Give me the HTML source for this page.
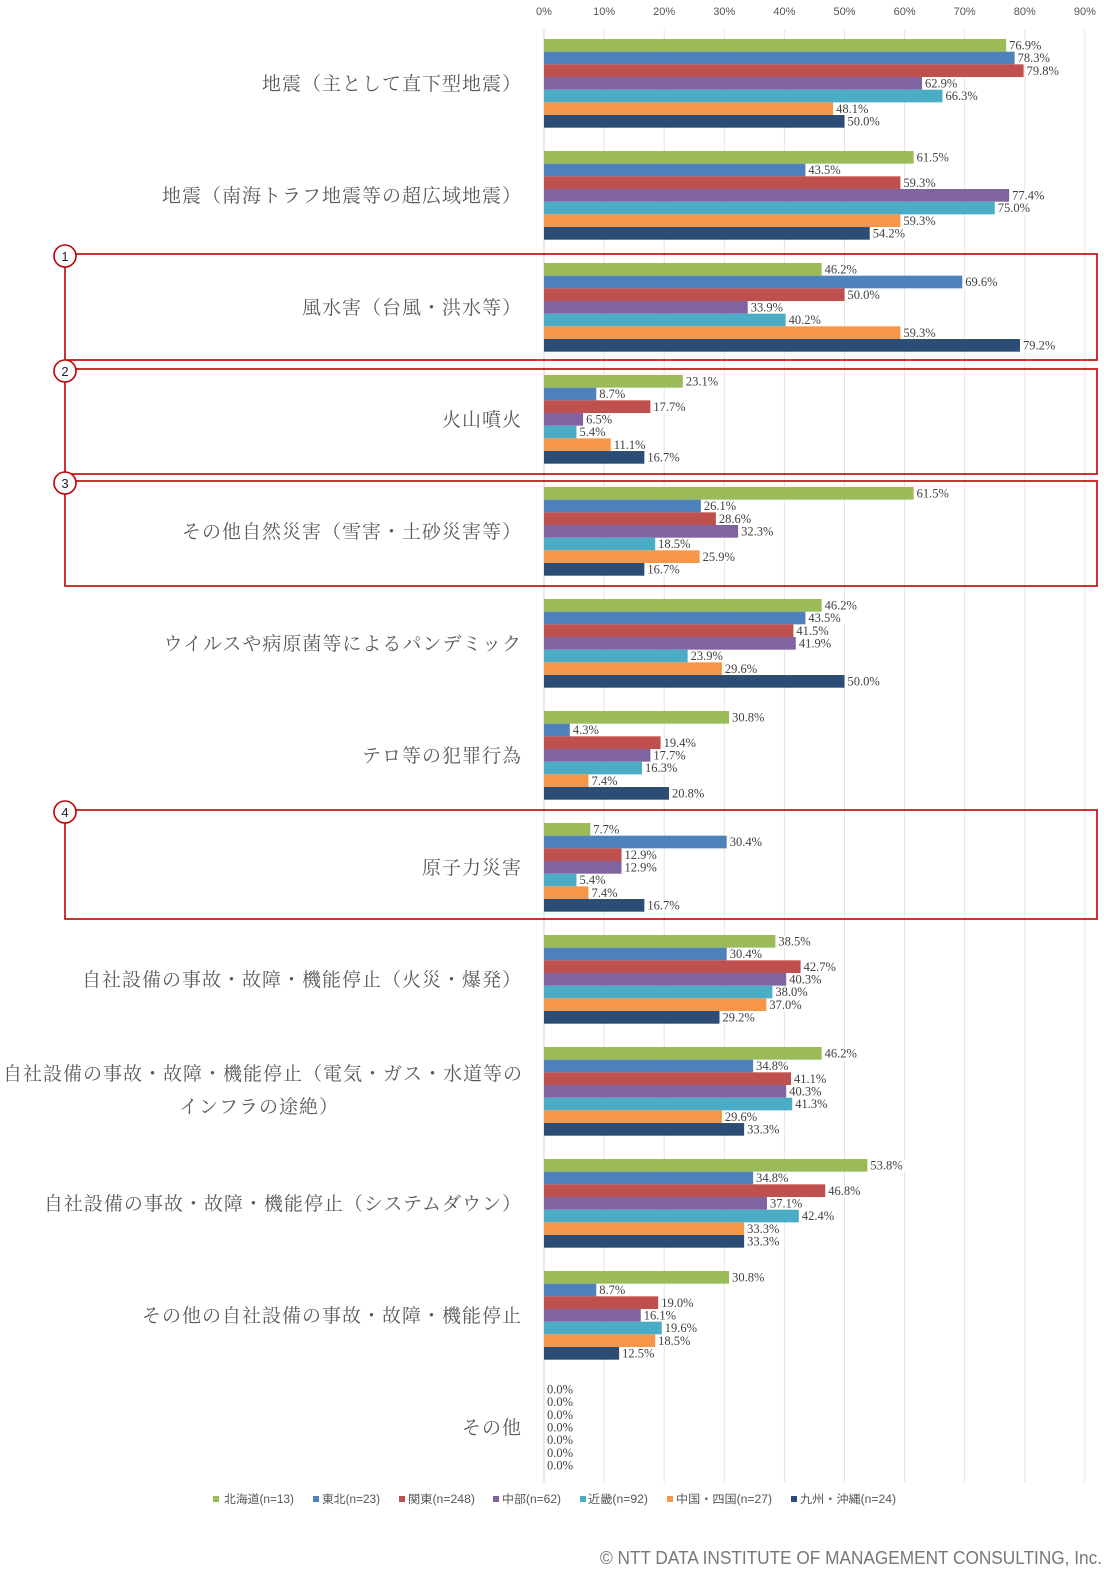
<!DOCTYPE html>
<html><head><meta charset="utf-8"><style>
html,body{margin:0;padding:0;background:#fff;width:1104px;height:1570px;overflow:hidden}
svg text{font-family:"Liberation Serif","Noto Serif CJK SC",serif}
</style></head><body>
<svg id="s" width="1104" height="1570" xmlns="http://www.w3.org/2000/svg"></svg>
<script>
const s=document.getElementById('s');
const X0=544,PX=6.01,G0=39,GS=112,BH=12.67;
const cols=['#9bbb59','#4f81bd','#c0504d','#8064a2','#4bacc6','#f79646','#2c4d75'];
const data=[[76.9,78.3,79.8,62.9,66.3,48.1,50.0],[61.5,43.5,59.3,77.4,75.0,59.3,54.2],[46.2,69.6,50.0,33.9,40.2,59.3,79.2],[23.1,8.7,17.7,6.5,5.4,11.1,16.7],[61.5,26.1,28.6,32.3,18.5,25.9,16.7],[46.2,43.5,41.5,41.9,23.9,29.6,50.0],[30.8,4.3,19.4,17.7,16.3,7.4,20.8],[7.7,30.4,12.9,12.9,5.4,7.4,16.7],[38.5,30.4,42.7,40.3,38.0,37.0,29.2],[46.2,34.8,41.1,40.3,41.3,29.6,33.3],[53.8,34.8,46.8,37.1,42.4,33.3,33.3],[30.8,8.7,19.0,16.1,19.6,18.5,12.5],[0,0,0,0,0,0,0]];
const labels=['地震（主として直下型地震）','地震（南海トラフ地震等の超広域地震）','風水害（台風・洪水等）','火山噴火','その他自然災害（雪害・土砂災害等）','ウイルスや病原菌等によるパンデミック','テロ等の犯罪行為','原子力災害','自社設備の事故・故障・機能停止（火災・爆発）',null,'自社設備の事故・故障・機能停止（システムダウン）','その他の自社設備の事故・故障・機能停止','その他'];
let h='';
for(let i=0;i<=9;i++){const x=X0+i*60.1;h+=`<line x1="${x}" y1="30" x2="${x}" y2="1482" stroke="${i==0?'#d0d0d0':'#e4e4e4'}" stroke-width="1"/>`;
h+=`<text x="${x}" y="15" font-size="11" fill="#555" text-anchor="middle" style="font-family:'Liberation Sans',sans-serif">${i*10}%</text>`;}
data.forEach((g,gi)=>{const top=G0+gi*GS;
g.forEach((v,bi)=>{const y=top+bi*BH,w=v*PX;
if(w>0)h+=`<rect x="${X0}" y="${y}" width="${w}" height="${BH}" fill="${cols[bi]}"/>`;
const t=(v.toFixed(1))+'%';const lx=X0+w+3;
h+=`<rect x="${lx-1}" y="${y+1}" width="38" height="${BH-1}" fill="#fff"/><text x="${lx}" y="${y+10.5}" font-size="12.5" fill="#404040">${t}</text>`;});
const cy=top+44+7;
if(labels[gi])h+=`<text x="522" y="${cy}" font-size="19" fill="#595959" text-anchor="end" letter-spacing="1">${labels[gi]}</text>`;
});
h+=`<text x="263" y="1080" font-size="19" fill="#595959" text-anchor="middle" letter-spacing="1">自社設備の事故・故障・機能停止（電気・ガス・水道等の</text>`;
h+=`<text x="259" y="1113" font-size="19" fill="#595959" text-anchor="middle" letter-spacing="1">インフラの途絶）</text>`;
[[254,360,1],[369,474,2],[481,586,3],[810,919,4]].forEach(([a,b,n])=>{
h+=`<rect x="65" y="${a}" width="1032" height="${b-a}" fill="none" stroke="#c00000" stroke-width="1.6"/>`;
h+=`<circle cx="65" cy="${a+2}" r="11" fill="#fff" stroke="#c00000" stroke-width="1.6"/><text x="65" y="${a+7}" font-size="13" text-anchor="middle" fill="#222" style="font-family:'Liberation Sans',sans-serif">${n}</text>`;});
const lg=['北海道(n=13)','東北(n=23)','関東(n=248)','中部(n=62)','近畿(n=92)','中国・四国(n=27)','九州・沖縄(n=24)'];
const sq=[213,313,399,493,580,667,791],tx=[[224,70],[322,58],[408,67],[502,59],[588,60],[676,96],[800,96]];
lg.forEach((t,i)=>{h+=`<rect x="${sq[i]}" y="1496" width="6" height="6" fill="${cols[i]}"/><text x="${tx[i][0]}" y="1503" font-size="11.5" fill="#555" textLength="${tx[i][1]}" lengthAdjust="spacingAndGlyphs" style="font-family:'Liberation Sans','Noto Sans CJK JP',sans-serif">${t}</text>`;});
h+=`<text x="600" y="1564" font-size="18" fill="#777" textLength="502" lengthAdjust="spacingAndGlyphs" style="font-family:'Liberation Sans',sans-serif">© NTT DATA INSTITUTE OF MANAGEMENT CONSULTING, Inc.</text>`;
s.innerHTML=h;
</script>
</body></html>
